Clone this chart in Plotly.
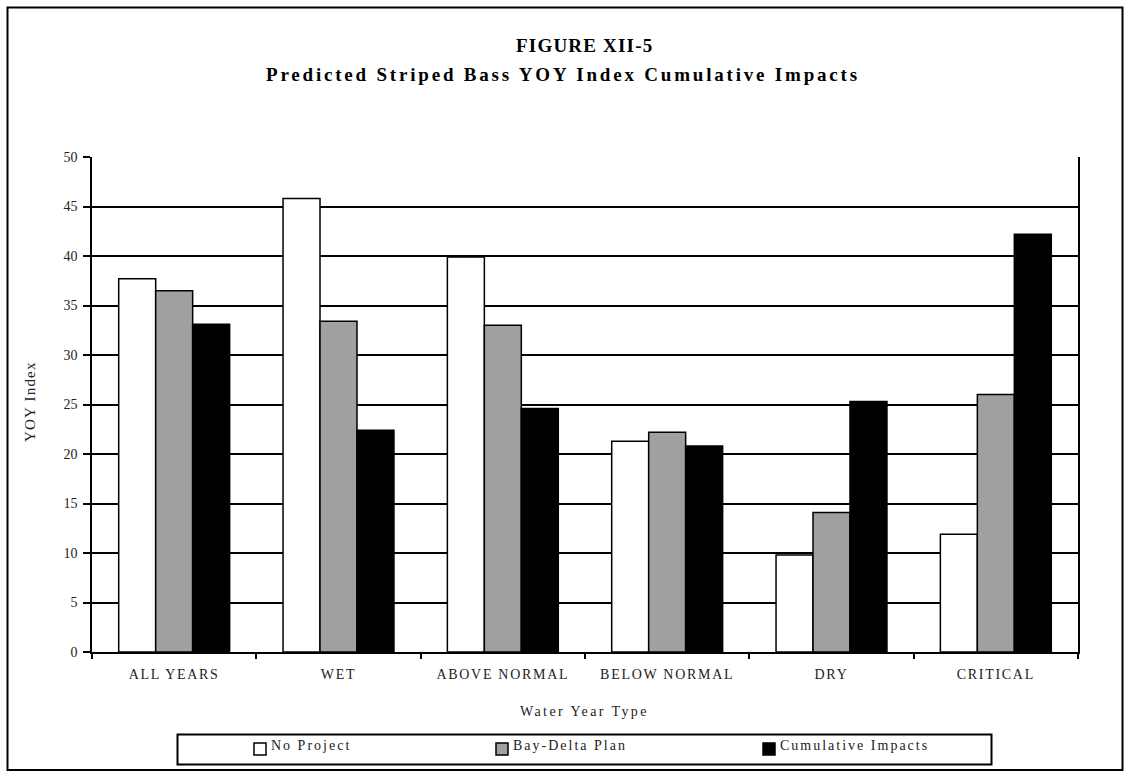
import plotly.graph_objects as go

# Water year types and predicted striped bass YOY index values
categories = ["ALL YEARS", "WET", "ABOVE NORMAL", "BELOW NORMAL", "DRY", "CRITICAL"]
no_project = [37.7, 45.8, 39.9, 21.3, 9.8, 11.9]
bay_delta_plan = [36.5, 33.4, 33.0, 22.2, 14.1, 26.0]
cumulative_impacts = [33.1, 22.4, 24.6, 20.8, 25.3, 42.2]

series_names = ["No Project", "Bay-Delta Plan", "Cumulative Impacts"]
series_colors = ["#ffffff", "#a0a0a0", "#000000"]
series_values = [no_project, bay_delta_plan, cumulative_impacts]

W, H = 1131, 776
PL, PR, PT, PB = 92, 1078, 157, 652
SERIF = "Liberation Serif, Times New Roman, serif"


def px(x):
    return (x - PL) / (PR - PL)


def py(y):
    return (PB - y) / (PB - PT)


def spaced(text, spacing):
    """Wrap text in a span with extra letter spacing."""
    return f'<span style="letter-spacing:{spacing}px">{text}</span>'


fig = go.Figure()
for name, color, vals in zip(series_names, series_colors, series_values):
    fig.add_trace(go.Bar(
        x=categories, y=vals, name=name,
        marker=dict(color=color, line=dict(color="black", width=1.5)),
        showlegend=False,
    ))

shapes = [
    # outer frame
    dict(type="rect", xref="paper", yref="paper",
         x0=px(7.5), x1=px(1122.5), y0=py(7.5), y1=py(770),
         line=dict(color="black", width=2), fillcolor="rgba(0,0,0,0)", layer="above"),
    # legend box
    dict(type="rect", xref="paper", yref="paper",
         x0=px(177.5), x1=px(991.5), y0=py(734.5), y1=py(764.5),
         line=dict(color="black", width=2), fillcolor="white"),
]

annotations = [
    dict(text="<b>" + spaced("FIGURE XII-5", 1.2) + "</b>", x=px(584), y=py(45),
         xref="paper", yref="paper", xanchor="center", yanchor="middle", showarrow=False,
         font=dict(family=SERIF, size=19, color="black")),
    dict(text="<b>" + spaced("Predicted Striped Bass YOY Index Cumulative Impacts", 2.8) + "</b>",
         x=px(563), y=py(74), xref="paper", yref="paper",
         xanchor="center", yanchor="middle", showarrow=False,
         font=dict(family=SERIF, size=19, color="black")),
    dict(text=spaced("YOY Index", 1.2), x=px(30), y=py(402), xref="paper", yref="paper",
         xanchor="center", yanchor="middle", showarrow=False, textangle=-90,
         font=dict(family=SERIF, size=15, color="#222")),
    dict(text=spaced("Water Year Type", 2.4), x=px(584), y=py(711), xref="paper", yref="paper",
         xanchor="center", yanchor="middle", showarrow=False,
         font=dict(family=SERIF, size=14, color="#222")),
]

# legend entries: swatch + label
legend_x = [254, 496, 763]
for name, color, lx in zip(series_names, series_colors, legend_x):
    shapes.append(dict(type="rect", xref="paper", yref="paper",
                       x0=px(lx), x1=px(lx + 12), y0=py(755), y1=py(743),
                       line=dict(color="black", width=1.5), fillcolor=color))
    annotations.append(dict(text=spaced(name, 2), x=px(lx + 15), y=py(745),
                            xref="paper", yref="paper",
                            xanchor="left", yanchor="middle", showarrow=False,
                            font=dict(family=SERIF, size=14, color="#222")))

fig.update_layout(
    width=W, height=H,
    margin=dict(l=PL, r=W - PR, t=PT, b=H - PB, pad=0),
    paper_bgcolor="white", plot_bgcolor="white",
    barmode="group", bargap=0.325, bargroupgap=0,
    shapes=shapes, annotations=annotations,
    font=dict(family=SERIF, color="#222"),
    xaxis=dict(
        tickmode="array", tickvals=categories,
        ticktext=[spaced(c, 1.7) for c in categories],
        showline=True, linecolor="black", linewidth=1.5,
        ticks="outside", tickson="boundaries", ticklen=5, tickwidth=1.5, tickcolor="black",
        ticklabelstandoff=8,
        showgrid=False, tickfont=dict(family=SERIF, size=14, color="#222"),
    ),
    yaxis=dict(
        range=[0, 50], dtick=5, tick0=0,
        showline=True, linecolor="black", linewidth=1.5, mirror=True,
        showgrid=True, gridcolor="black", gridwidth=1.5, zeroline=False,
        ticks="outside", ticklen=7, tickwidth=1.5, tickcolor="black",
        ticklabelstandoff=3,
        tickfont=dict(family=SERIF, size=14, color="#222"),
    ),
)

fig.write_html("out.html")
